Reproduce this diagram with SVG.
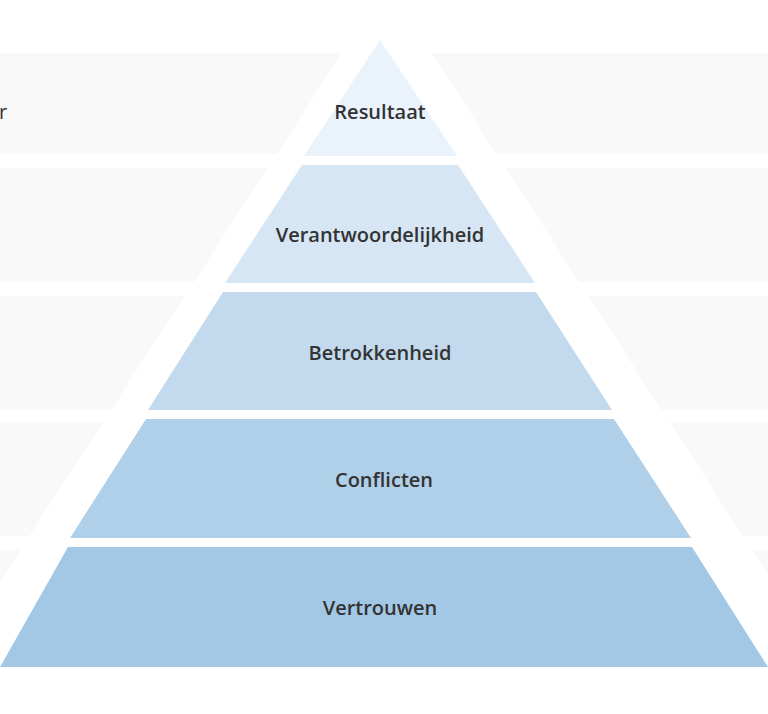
<svg xmlns="http://www.w3.org/2000/svg" width="768" height="714" viewBox="0 0 768 714">
<style>
.band{fill:#f9f9f9}
.lbl{font-family:"Open Sans",sans-serif;font-weight:600;font-size:20px;fill:#333;text-anchor:middle}
</style>
<rect width="768" height="714" fill="#fff"/>
<g id="bands">
<rect class="band" x="0" y="53" width="768" height="101"/>
<rect class="band" x="0" y="168" width="768" height="114"/>
<rect class="band" x="0" y="296" width="768" height="114"/>
<rect class="band" x="0" y="422" width="768" height="114"/>
<rect class="band" x="0" y="550" width="768" height="116"/>
<polygon points="387,-16 830,671 -58,671" fill="#fff"/>
</g>
<text x="-1" y="119" style="font-family:'Open Sans',sans-serif;font-size:20px;fill:#333">r</text>
<g id="resultaat"><polygon points="380,40 457,156 304,156" fill="#eaf2fb"/><text class="lbl" x="380" y="119">Resultaat</text></g>
<g id="verantwoordelijkheid"><polygon points="302,165 458,165 535,283 225,283" fill="#d6e6f4"/><text class="lbl" x="380" y="242">Verantwoordelijkheid</text></g>
<g id="betrokkenheid"><polygon points="223,292 536,292 612,410 148,410" fill="#c3daee"/><text class="lbl" x="380" y="360">Betrokkenheid</text></g>
<g id="conflicten"><polygon points="146,419 614,419 691,538 70,538" fill="#b0cfe8"/><text class="lbl" x="384" y="487">Conflicten</text></g>
<g id="vertrouwen"><polygon points="68,547 692,547 768,667 0,667" fill="#a3c8e6"/><text class="lbl" x="380" y="615">Vertrouwen</text></g>
<g id="connectors"/>
</svg>
